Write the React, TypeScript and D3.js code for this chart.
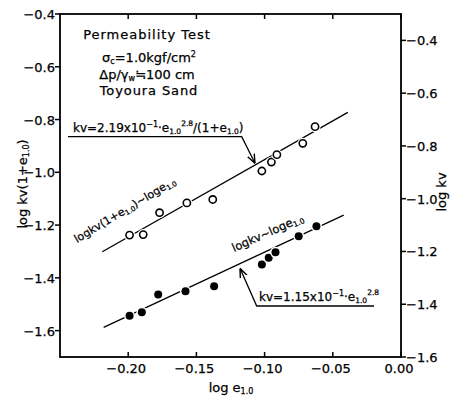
import React from "react";
import * as d3 from "d3";

const W = 457;
const H = 396;

// axis ticks
const xTicks = [-0.2, -0.15, -0.1, -0.05, 0.0];
const xTickLabels = ["−0.20", "−0.15", "−0.10", "−0.05", "0.00"];
const yLeftTicks = [-0.4, -0.6, -0.8, -1.0, -1.2, -1.4, -1.6];
const yLeftLabels = ["−0.4", "−0.6", "−0.8", "−1.0", "−1.2", "−1.4", "−1.6"];
const yRightTicks = [-0.4, -0.6, -0.8, -1.0, -1.2, -1.4, -1.6];
const yRightLabels = ["−0.4", "−0.6", "−0.8", "−1.0", "−1.2", "−1.4", "−1.6"];

// open circles: log kv(1+e1.0) vs log e1.0 (left axis)
const upperX = [-0.199, -0.189, -0.177, -0.157, -0.138, -0.102, -0.095, -0.091, -0.072, -0.063];
const upperY = [-1.238, -1.236, -1.153, -1.116, -1.103, -0.995, -0.961, -0.933, -0.89, -0.827];
// filled circles: log kv vs log e1.0 (right axis)
const lowerX = [-0.199, -0.19, -0.178, -0.158, -0.137, -0.102, -0.097, -0.092, -0.075, -0.062];
const lowerY = [-1.444, -1.43, -1.363, -1.351, -1.332, -1.249, -1.224, -1.203, -1.142, -1.104];

// fitted lines
const upperFitX = [-0.219, -0.039];
const upperFitY = [-1.301, -0.773];
const lowerFitX = [-0.218, -0.042];
const lowerFitY = [-1.488, -1.062];

const FONT = "'DejaVu Sans', sans-serif";

export default function App() {
  const left = 60, right = 401, top = 14, bottom = 357;
  const x = d3.scaleLinear().domain([-0.25, 0]).range([left, right]);
  const yL = d3.scaleLinear().domain([-1.7, -0.4]).range([bottom, top]);
  const yR = d3.scaleLinear().domain([-1.6, -0.3]).range([bottom, top]);
  const line = d3.line<[number, number]>();

  const upFit = line(upperFitX.map((v, i) => [x(v), yL(upperFitY[i])] as [number, number]));
  const loFit = line(lowerFitX.map((v, i) => [x(v), yR(lowerFitY[i])] as [number, number]));

  const sub = (t: string) => (
    <tspan fontSize="8" dy="2">{t}</tspan>
  );

  return (
    <svg width={W} height={H} style={{ position: "absolute", left: 0, top: 0, background: "#fff" }}
      fontFamily={FONT} stroke="none">
      <defs>
        <marker id="arr" viewBox="0 0 10 10" refX="10" refY="5" markerWidth="7" markerHeight="7" orient="auto">
          <path d="M0,1 L10,5 L0,9" fill="none" stroke="#000" strokeWidth="1.6" />
        </marker>
      </defs>
      {/* frame */}
      <rect x={left} y={top} width={right - left} height={bottom - top} fill="none" stroke="#000" strokeWidth={1.8} />

      <g fill="#000" stroke="#000" strokeWidth={0.25}>
        {/* bottom & top ticks */}
        {xTicks.map((t, i) => (
          <g key={"xt" + i}>
            <line x1={x(t)} x2={x(t)} y1={bottom} y2={bottom - 5} strokeWidth={1.5} />
            <line x1={x(t)} x2={x(t)} y1={top} y2={top + 5} strokeWidth={1.5} />
            <text x={x(t) - 2} y={373} fontSize={13} textAnchor="middle">{xTickLabels[i]}</text>
          </g>
        ))}
        {/* left ticks */}
        {yLeftTicks.map((t, i) => (
          <g key={"yl" + i}>
            <line x1={left - 5} x2={left} y1={yL(t)} y2={yL(t)} strokeWidth={1.5} />
            <text x={left - 5} y={yL(t) + 5} fontSize={13} textAnchor="end">{yLeftLabels[i]}</text>
          </g>
        ))}
        {/* right ticks */}
        {yRightTicks.map((t, i) => (
          <g key={"yr" + i}>
            <line x1={right} x2={right + 5} y1={yR(t)} y2={yR(t)} strokeWidth={1.5} />
            <text x={right + 5} y={yR(t) + 5} fontSize={13} textAnchor="start">{yRightLabels[i]}</text>
          </g>
        ))}

        {/* axis titles */}
        <text x={231} y={392} fontSize={13} textAnchor="middle">log e{sub("1.0")}</text>
        <text transform="translate(27,184) rotate(-90)" fontSize={13} textAnchor="middle">log kv(1+e{sub("1.0")}<tspan dy="-2">)</tspan></text>
        <text transform="translate(446,192) rotate(-90)" fontSize={13} textAnchor="middle">log kv</text>

        {/* info block */}
        <g fontSize={13} textAnchor="middle">
          <text x={147} y={39} letterSpacing={1}>Permeability Test</text>
          <text x={149} y={62}>σ{sub("c")}<tspan dy="-2">=1.0kgf/cm</tspan><tspan fontSize="8" dy="-5">2</tspan></text>
          <text x={147} y={79}>Δp/γ{sub("w")}<tspan dy="-2">≒100 cm</tspan></text>
          <text x={149} y={95} letterSpacing={0.9}>Toyoura Sand</text>
        </g>

        {/* upper equation */}
        <text x={73} y={132} fontSize={12}>
          kv=2.19x10<tspan fontSize="8" dy="-5">−1</tspan><tspan dy="5">·e</tspan>
          <tspan fontSize="7.5" dy="2">1.0</tspan><tspan fontSize="7.5" dy="-8">2.8</tspan>
          <tspan dy="6">/(1+e</tspan><tspan fontSize="7.5" dy="2">1.0</tspan><tspan dy="-2">)</tspan>
        </text>

        {/* lower equation */}
        <text x={259} y={301} fontSize={12}>
          kv=1.15x10<tspan fontSize="8" dy="-5">−1</tspan><tspan dy="5">·e</tspan>
          <tspan fontSize="7.5" dy="2">1.0</tspan><tspan fontSize="7.5" dy="-8">2.8</tspan>
        </text>

        {/* rotated line labels */}
        <text transform="translate(77,243) rotate(-31)" fontSize={11}>
          logkv(1+e<tspan fontSize="7" dy="2">1.0</tspan><tspan dy="-2">)~loge</tspan><tspan fontSize="7" dy="2">1.0</tspan>
        </text>
        <text transform="translate(234,252) rotate(-24)" fontSize={11.5}>
          logkv~loge<tspan fontSize="7.5" dy="2">1.0</tspan>
        </text>
      </g>

      {/* leaders */}
      <polyline points="68,136.7 241.7,136.7 255,163.3" fill="none" stroke="#000" strokeWidth={1.3} markerEnd="url(#arr)" />
      <polyline points="374,306 256.7,306 240,268.3" fill="none" stroke="#000" strokeWidth={1.3} markerEnd="url(#arr)" />

      {/* fit lines */}
      <path d={upFit ?? ""} fill="none" stroke="#000" strokeWidth={1.3} />
      <path d={loFit ?? ""} fill="none" stroke="#000" strokeWidth={1.3} />

      {/* points */}
      {upperX.map((v, i) => (
        <g key={"u" + i}>
          <circle cx={x(v)} cy={yL(upperY[i])} r={5.5} fill="#fff" />
          <circle cx={x(v)} cy={yL(upperY[i])} r={3.6} fill="#fff" stroke="#000" strokeWidth={1.6} />
        </g>
      ))}
      {lowerX.map((v, i) => (
        <g key={"l" + i}>
          <circle cx={x(v)} cy={yR(lowerY[i])} r={5.5} fill="#fff" />
          <circle cx={x(v)} cy={yR(lowerY[i])} r={4} fill="#000" />
        </g>
      ))}
    </svg>
  );
}
